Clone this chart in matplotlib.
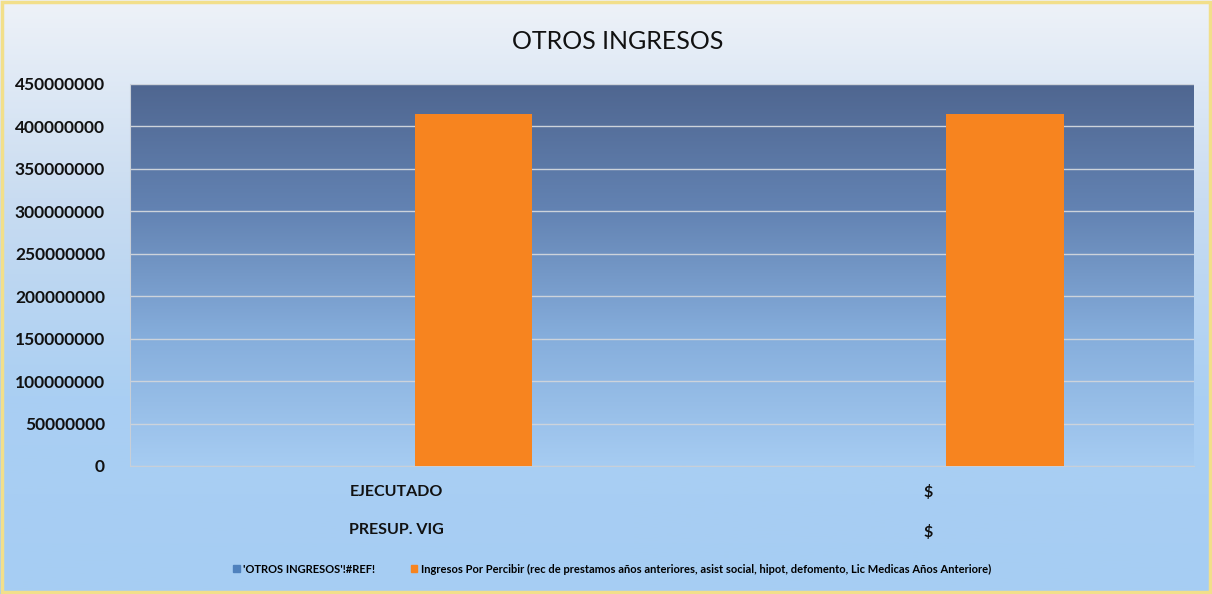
import matplotlib
matplotlib.use('Agg')
from matplotlib import pyplot as plt
from matplotlib.colors import LinearSegmentedColormap
from matplotlib.patches import Patch, Rectangle
import numpy as np

# data
categories = ['EJECUTADO\n\nPRESUP. VIG', '$\n\n$']
serie_ref = [0, 0]
serie_ingresos = [415000000, 415000000]
series_names = ["'OTROS INGRESOS'!#REF!",
                'Ingresos Por Percibir (rec de prestamos años anteriores, asist social, hipot, defomento, Lic Medicas Años Anteriore)']
yticks = np.arange(0, 450000001, 50000000)

plt.rcParams['font.family'] = ['Lato', 'DejaVu Sans']

fig = plt.figure(figsize=(12.12, 5.94), dpi=100)

# fondo de la figura (degradado)
bg = fig.add_axes([0, 0, 1, 1], zorder=-10)
cmap_bg = LinearSegmentedColormap.from_list('bg', ['#eef2f8', '#c9dcf1', '#aacff3', '#a6cdf3'])
grad = np.linspace(0, 1, 256).reshape(-1, 1)
bg.imshow(grad, aspect='auto', cmap=cmap_bg, extent=[0, 1, 0, 1], origin='upper')
bg.add_patch(Rectangle((0.002, 0.003), 0.996, 0.994, fill=False, edgecolor='#f2df8a', lw=2.5,
                       transform=bg.transAxes))
bg.set_axis_off()

ax = fig.add_axes([0.1073, 0.2155, 0.8777, 0.6431])
ax.set_facecolor('none')
x = np.arange(len(categories))
cmap_plot = LinearSegmentedColormap.from_list('pa', ['#4f6690', '#6383b3', '#86aedc', '#a6ccf2'])
ax.imshow(grad, aspect='auto', cmap=cmap_plot, extent=[-0.5, 1.5, 0, 450000000],
          origin='upper', zorder=0)

ax.bar(x - 0.145, serie_ref, width=0.22, color='#4f81bd', zorder=3)
ax.bar(x + 0.145, serie_ingresos, width=0.22, color='#f7841f', zorder=3)

ax.set_xlim(-0.5, 1.5)
ax.set_ylim(0, 450000000)
ax.set_yticks(yticks)
ax.set_yticklabels([str(int(v)) for v in yticks], fontsize=12.5, fontweight='bold', color='#111111')
ax.yaxis.grid(True, color='#cdd3db', lw=1.0, zorder=1)
ax.set_axisbelow(True)
ax.set_xticks(x)
ax.set_xticklabels(categories, fontsize=11.5, fontweight='bold', color='#111111', linespacing=1.45)
ax.tick_params(axis='y', length=0, pad=18)
ax.tick_params(axis='x', length=0, pad=14)
for side in ['top', 'right']:
    ax.spines[side].set_visible(False)
ax.spines['left'].set_color('#c8cfd8')
ax.spines['bottom'].set_color('#c8cfd8')

fig.text(0.51, 0.93, 'OTROS INGRESOS', ha='center', va='center', fontsize=18, color='#111111')

handles = [Patch(color='#4f81bd'), Patch(color='#f7841f')]
fig.legend(handles, series_names, loc='center', bbox_to_anchor=(0.505, 0.042), ncol=2,
           frameon=False, handlelength=0.6, handleheight=0.6,
           handletextpad=0.3, columnspacing=3.2, prop={'weight': 'bold', 'size': 8})

plt.savefig('out.png', dpi=100)
